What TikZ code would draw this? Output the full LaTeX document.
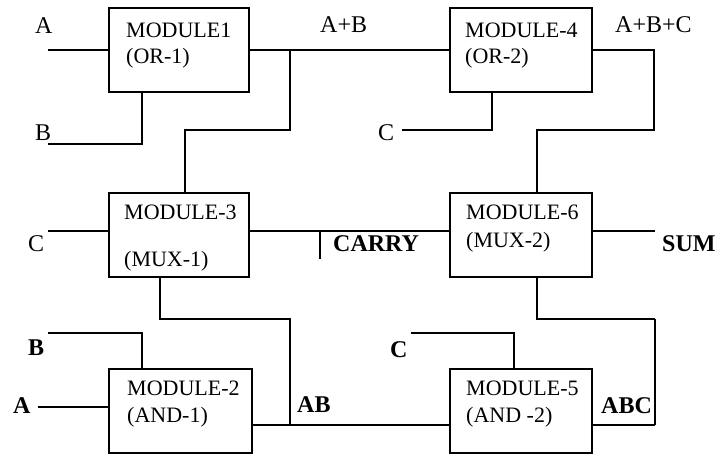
\documentclass[tikz,border=0pt]{standalone}
\usepackage{fontspec}
\setmainfont{Liberation Serif}
\begin{document}
\begin{tikzpicture}[x=1pt,y=-1pt,
  box/.style={draw, line width=1.6pt, inner sep=0pt, minimum height=84pt},
  wire/.style={line width=1.5pt},
  mtext/.style={anchor=base west, inner sep=0pt, font=\fontsize{22}{26}\selectfont},
  lab/.style={anchor=base west, inner sep=0pt, font=\fontsize{24}{28}\selectfont},
  blab/.style={anchor=base west, inner sep=0pt, font=\fontsize{24}{28}\selectfont\bfseries}]
\useasboundingbox (0,0) rectangle (720,456);
% boxes
\node[box, minimum width=140pt] (m1) at (179,50) {};
\node[box, minimum width=142pt] (m4) at (521,50) {};
\node[box, minimum width=140pt] (m3) at (179,235) {};
\node[box, minimum width=142pt] (m6) at (521,235) {};
\node[box, minimum width=143pt] (m2) at (180.5,411) {};
\node[box, minimum width=142pt] (m5) at (521,411) {};
% box texts
\node[mtext] (t1a) at (126,37) {MODULE1};
\node[mtext] (t1b) at (126,63) {(OR-1)};
\node[mtext] (t4a) at (465,37) {MODULE-4};
\node[mtext] (t4b) at (465,63) {(OR-2)};
\node[mtext] (t3a) at (124,219) {MODULE-3};
\node[mtext] (t3b) at (124,266) {(MUX-1)};
\node[mtext] (t6a) at (466,219) {MODULE-6};
\node[mtext] (t6b) at (466,247) {(MUX-2)};
\node[mtext] (t2a) at (127,395) {MODULE-2};
\node[mtext] (t2b) at (127,422) {(AND-1)};
\node[mtext] (t5a) at (466,395) {MODULE-5};
\node[mtext] (t5b) at (466,422) {(AND -2)};
% free ends and bends
\coordinate (a1) at (48,50);
\coordinate (b1) at (48,144);
\coordinate (j1) at (290,50);
\coordinate (c4) at (402,130);
\coordinate (k1) at (654,130);
\coordinate (c3) at (48,231);
\coordinate (ct) at (320,231);
\coordinate (se) at (655,231);
\coordinate (k2) at (290,319);
\coordinate (j2) at (290,425);
\coordinate (k3) at (655,319);
\coordinate (k4) at (655,425);
\coordinate (b2) at (48,333);
\coordinate (a2) at (38,407);
\coordinate (c5) at (411,333);
% wires
\draw[wire] (a1) -- (a1 -| m1.west);
\draw[wire] (b1) -| ([xshift=-37pt]m1.south);
\draw[wire] (m1.east) -- (m4.west);
\draw[wire] (j1) -- ++(0,80) -| ([xshift=6pt]m3.north);
\draw[wire] (c4) -| ([xshift=-29pt]m4.south);
\draw[wire] (m4.east) -| (k1) -| ([xshift=16pt]m6.north);
\draw[wire] (c3) -- (c3 -| m3.west);
\draw[wire] ([yshift=4pt]m3.east) -- ([yshift=4pt]m6.west);
\draw[wire] (ct) -- ++(0,28);
\draw[wire] ([yshift=4pt]m6.east) -- (se);
\draw[wire] ([xshift=-19pt]m3.south) |- (k2) -- (j2);
\draw[wire] ([yshift=-14pt]m2.east) -- ([yshift=-14pt]m5.west);
\draw[wire] ([xshift=16pt]m6.south) |- (k3);
\draw[line width=2.6pt] (k3) -- (k4);
\draw[wire] (k4) -- ([yshift=-14pt]m5.east);
\draw[wire] (b2) -| ([xshift=-38.5pt]m2.north);
\draw[line width=2pt] (a2) -- (a2 -| m2.west);
\draw[wire] (c5) -| ([xshift=-7pt]m5.north);
% labels
\node[lab] (lA1) at (35,33) {A};
\node[lab] (lB1) at (35,140) {B};
\node[lab] (lAB) at (320,32) {A+B};
\node[lab] (lABC) at (615,32) {A+B+C};
\node[lab] (lC4) at (378,140) {C};
\node[lab] (lC3) at (28,251) {C};
\node[blab] (lcarry) at (333,251) {CARRY};
\node[blab] (lsum) at (662,251) {SUM};
\node[blab] (lB2) at (28,355) {B};
\node[blab] (lA2) at (13,413) {A};
\node[blab] (lAB2) at (297,412) {AB};
\node[blab] (lC5) at (390,357) {C};
\node[blab] (lABC2) at (601,413) {ABC};
\end{tikzpicture}
\end{document}
